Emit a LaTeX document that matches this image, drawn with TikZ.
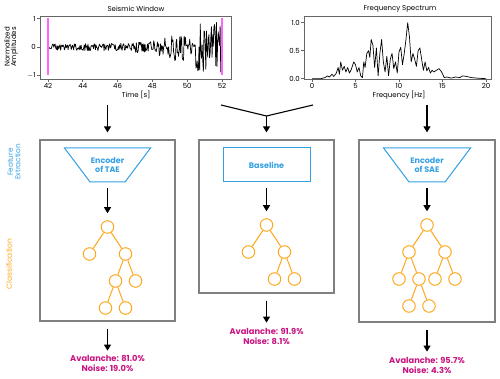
\documentclass[tikz,border=0pt]{standalone}
\usepackage{fontspec}
\setmainfont{Poppins}
\usetikzlibrary{shapes.geometric, positioning, arrows.meta, calc}
\definecolor{featblue}{RGB}{52,160,228}
\definecolor{treeorange}{RGB}{253,168,30}
\definecolor{resmagenta}{RGB}{200,20,128}
\definecolor{markpink}{RGB}{255,100,255}

\begin{document}
\begin{tikzpicture}[
  x=1pt, y=-1pt,
  level distance=27pt,
  level 1/.style={sibling distance=36pt},
  level 2/.style={sibling distance=20pt},
  level 3/.style={sibling distance=20pt},
  edge from parent/.style={draw=treeorange, line width=1pt},
  split/.style={circle, draw=treeorange, line width=1pt, inner sep=0pt, minimum size=12.5pt},
  stage/.style={draw=black!50, line width=1.2pt},
  encline/.style={draw=featblue, line width=1pt, line join=miter},
  encbox/.style={draw=featblue, line width=1pt, minimum width=87pt, minimum height=34pt},
  enctext/.style={text=featblue, font=\bfseries\fontsize{8}{9.5}\selectfont, align=center},
  res/.style={text=resmagenta, font=\bfseries\fontsize{8.3}{10}\selectfont, align=center, inner sep=0pt},
  plottext/.style={font=\fontsize{7}{7.5}\selectfont, inner sep=1pt},
  frame/.style={draw=black!60, line width=0.7pt},
  arr/.style={line width=1.1pt, -{Triangle[width=7pt,length=6pt]}}
]
  \useasboundingbox (0,0) rectangle (500,379);

  % seismic window
  \node[plottext] (seistitle) at (136,9) {Seismic Window};
  \draw[frame] (40,16) rectangle (231,79);
  \begin{scope}[shift={(48,47)}, x=17.4pt, y=28.5pt]
    \pgfmathsetseed{11}
    \draw[line width=0.7pt, line join=round] plot[domain=0.05:10, samples=280]
      (\x, {(0.13+0.08*(\x>5)+0.12*(\x>6)+0.17*(\x>7)-0.22*(\x>8)+0.6*(\x>8.45))*rand});
    \draw[markpink, line width=1.3pt] (0,1) -- (0,-1);
    \draw[markpink, line width=1.3pt] (10,1) -- (10,-1);
    \foreach \t in {42,44,...,52}
      \draw[frame] (\t-42,-1.12) -- ++(0,-3pt) node[plottext, below] {\t};
    \foreach \a/\lab in {1/1, 0/0, -1/$-$1}
      \draw[frame] (-0.46,\a) -- ++(-3pt,0) node[plottext, left] {\lab};
  \end{scope}
  \node[plottext] (seisx) at (136,95) {Time [s]};
  \node[plottext, rotate=90, align=center, font=\fontsize{7}{6.5}\selectfont] (seisy) at (11,47) {Normalized\\Amplitudes};

  % frequency spectrum
  \node[plottext] (spectitle) at (400,9) {Frequency Spectrum};
  \draw[frame] (304,16) rectangle (491,79);
  \begin{scope}[shift={(312,78.7)}, x=8.7pt, y=56pt]
    \draw[line width=0.7pt, line join=round] plot coordinates {
      (0,0) (1,0) (1.5,0.02) (1.8,0.05) (2,0.03) (2.3,0.08) (2.5,0.04) (2.8,0.1)
      (3,0.2) (3.15,0.08) (3.3,0.3) (3.5,0.15) (3.7,0.22) (3.9,0.12) (4.1,0.2)
      (4.3,0.1) (4.5,0.16) (4.8,0.3) (5.0,0.25) (5.2,0.12) (5.4,0.2) (5.6,0.05)
      (5.8,0.02) (5.95,0.3) (6.1,0.2) (6.3,0.45) (6.5,0.5) (6.65,0.38) (6.8,0.7)
      (7.0,0.6) (7.2,0.2) (7.4,0.55) (7.6,0.05) (7.8,0.45) (8.0,0.7) (8.2,0.3)
      (8.4,0.12) (8.6,0.4) (8.8,0.05) (9.0,0.35) (9.2,0.45) (9.4,0.18) (9.6,0.3)
      (9.8,0.1) (10.0,0.48) (10.2,0.56) (10.4,0.25) (10.6,0.45) (10.8,0.7)
      (11.0,1.0) (11.2,0.75) (11.4,0.3) (11.6,0.45) (11.8,0.35) (12.0,0.22)
      (12.2,0.5) (12.4,0.55) (12.6,0.35) (12.8,0.15) (13.0,0.3) (13.2,0.14)
      (13.4,0.2) (13.6,0.1) (13.8,0.15) (14.0,0.12) (14.3,0.15) (14.6,0.18)
      (14.9,0.12) (15.2,0.02) (15.5,0.03) (16,0.01) (16.5,0.03) (17,0.02)
      (17.3,0.05) (17.8,0.04) (18.3,0.02) (19,0.01) (20,0)};
    \foreach \f in {0,5,...,20}
      \draw[frame] (\f,0) ++(0,-0.3pt) -- ++(0,-3pt) node[plottext, below] {\f};
    \foreach \s in {0.0,0.5,1.0}
      \draw[frame] (-0.92,\s) -- ++(-3pt,0) node[plottext, left] {\s};
  \end{scope}
  \node[plottext] (specx) at (399,95) {Frequency [Hz]};

  % side labels
  \node[rotate=90, align=center, text=featblue, font=\fontsize{7.3}{7.5}\selectfont] (featlab) at (14,162) {Feature\\Extraction};
  \node[rotate=90, text=treeorange, font=\fontsize{7.5}{7.5}\selectfont] (classlab) at (9,264) {Classification};

  % stages
  \node[stage, minimum width=135pt, minimum height=181pt] (boxtae) at (107.5,230.5) {};
  \node[stage, minimum width=135pt, minimum height=153pt] (boxbase) at (266.5,216.5) {};
  \node[stage, minimum width=136pt, minimum height=182pt] (boxsae) at (427,231) {};

  \node[enctext] (enctae) at (107.5,165) {Encoder\\of TAE};
  \draw[encline] ([shift={(-43,-17)}]enctae.center) -- ++(86,0) -- ++(-25.5,34) -- ++(-35,0) -- cycle;
  \node[encbox, enctext] (base) at (266.5,165) {Baseline};
  \node[enctext] (encsae) at (427,165) {Encoder\\of SAE};
  \draw[encline] ([shift={(-43.5,-17)}]encsae.center) -- ++(87,0) -- ++(-25.5,34) -- ++(-36,0) -- cycle;

  % inputs
  \coordinate (seisout) at (107.5,105);
  \coordinate (specout) at (427,105);
  \coordinate (vl) at (221,105);
  \coordinate (vm) at (266.5,116);
  \coordinate (vr) at (313,105);
  \draw[arr, shorten >=7pt] (seisout) -- (boxtae.north);
  \draw[arr, shorten >=7pt] (specout) -- (boxsae.north);
  \draw[line width=1.1pt] (vl) -- (vm) -- (vr);
  \draw[arr, shorten >=7pt] (vm) -- (boxbase.north);

  % trees
  \node[split] (ttae) at (107.5,227) {}
    child {node[split] {}}
    child {node[split] {}
      child {node[split] {}
        child {node[split] {}}
        child {node[split] {}}
      }
      child {node[split] {}}
    };
  \node[split] (tbase) at (266.5,225) {}
    child {node[split] {}}
    child {node[split] {}
      child {node[split] {}}
      child {node[split] {}}
    };
  \node[split] (tsae) at (427,225) {}
    child {node[split] {}
      child {node[split] {}}
      child {node[split] {}
        child {node[split] {}}
        child {node[split] {}}
      }
    }
    child {node[split] {}
      child {node[split] {}}
      child {node[split] {}}
    };

  \draw[arr, shorten <=23pt, shorten >=7pt] (enctae.center) -- (ttae);
  \draw[arr, shorten <=23pt, shorten >=7pt] (base.center) -- (tbase);
  \draw[arr, shorten <=23pt, shorten >=7pt] (encsae.center) -- (tsae);

  % results
  \node[res, below=34pt of boxtae] (restae) {Avalanche: 81.0\%\\Noise: 19.0\%};
  \node[res, below=34pt of boxbase] (resbase) {Avalanche: 91.9\%\\Noise: 8.1\%};
  \node[res, below=34pt of boxsae] (ressae) {Avalanche: 95.7\%\\Noise: 4.3\%};
  \draw[arr, shorten <=7pt, shorten >=5pt] (boxtae) -- (restae);
  \draw[arr, shorten <=7pt, shorten >=5pt] (boxbase) -- (resbase);
  \draw[arr, shorten <=7pt, shorten >=5pt] (boxsae) -- (ressae);
\end{tikzpicture}
\end{document}
